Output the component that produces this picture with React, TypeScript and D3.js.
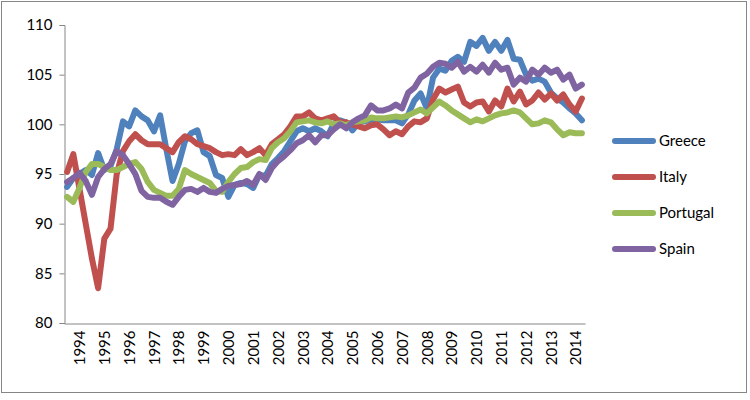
import React, { useEffect, useRef } from 'react';
import * as d3 from 'd3';

// quarterly index, 1993Q3 .. 2014Q2
const startYear = 1993;
const startQuarter = 3;
const yearLabels = ['1994', '1995', '1996', '1997', '1998', '1999', '2000', '2001', '2002', '2003', '2004',
  '2005', '2006', '2007', '2008', '2009', '2010', '2011', '2012', '2013', '2014'];
const seriesNames = ['Greece', 'Italy', 'Portugal', 'Spain'];
const seriesColors = ['#4F81BD', '#C0504D', '#9BBB59', '#8064A2'];

const greece = [93.7, 94.6, 95.0, 95.4, 94.9, 97.1, 95.4, 95.8, 97.5, 100.3, 99.8, 101.4, 100.8, 100.4, 99.3, 100.9,
  97.5, 94.3, 96.0, 98.3, 99.1, 99.4, 97.2, 96.8, 94.9, 94.6, 92.7, 93.9, 94.1, 94.0, 93.6, 94.9,
  94.8, 96.0, 96.6, 97.3, 98.3, 99.3, 99.6, 99.3, 99.6, 99.3, 98.8, 100.1, 100.4, 100.2, 99.4, 100.2,
  100.3, 100.5, 100.5, 100.4, 100.4, 100.4, 100.1, 101.0, 102.4, 103.1, 101.6, 104.7, 105.6, 105.4, 106.4, 106.8,
  106.3, 108.3, 107.9, 108.7, 107.4, 108.3, 107.4, 108.5, 106.6, 106.5, 105.0, 104.4, 104.6, 104.3, 103.2, 102.6,
  102.2, 101.6, 101.1, 100.4];
const italy = [95.2, 97.0, 93.5, 90.0, 86.5, 83.5, 88.5, 89.5, 95.0, 97.3, 98.3, 99.0, 98.4, 98.0, 98.0, 98.0,
  97.6, 97.2, 98.2, 98.8, 98.5, 98.0, 97.8, 97.6, 97.2, 96.9, 97.0, 96.9, 97.5, 96.9, 97.2, 97.6,
  96.9, 98.0, 98.5, 99.0, 99.8, 100.8, 100.8, 101.2, 100.6, 100.4, 100.6, 100.8, 100.2, 100.2, 100.0, 99.8,
  99.6, 99.9, 100.0, 99.5, 98.9, 99.3, 99.0, 99.8, 100.3, 100.2, 100.6, 102.5, 103.6, 103.2, 103.5, 103.8,
  102.2, 101.8, 102.2, 102.3, 101.3, 102.4, 101.8, 103.6, 102.3, 103.3, 102.0, 102.4, 103.2, 102.5, 103.1, 102.4,
  103.0, 102.0, 101.3, 102.6];
const portugal = [92.7, 92.2, 93.6, 95.2, 96.0, 96.0, 95.7, 95.4, 95.4, 95.7, 96.0, 96.2, 95.5, 94.2, 93.4, 93.1,
  92.8, 92.8, 93.5, 95.4, 95.0, 94.7, 94.4, 94.1, 93.3, 93.2, 94.2, 95.0, 95.6, 95.7, 96.2, 96.5,
  96.4, 97.6, 98.2, 98.6, 99.3, 100.2, 100.3, 100.4, 100.2, 100.1, 100.3, 100.0, 100.1, 99.9, 100.2, 100.3,
  100.4, 100.7, 100.6, 100.6, 100.7, 100.8, 100.7, 100.9, 101.2, 101.5, 101.1, 101.7, 102.3, 101.9, 101.4, 101.0,
  100.6, 100.2, 100.5, 100.3, 100.6, 100.9, 101.1, 101.2, 101.4, 101.2, 100.6, 100.0, 100.1, 100.4, 100.2, 99.5,
  98.9, 99.2, 99.1, 99.1];
const spain = [94.2, 94.6, 95.1, 94.3, 92.9, 94.7, 95.5, 96.0, 97.3, 96.9, 96.0, 95.0, 93.3, 92.7, 92.6, 92.6,
  92.2, 91.9, 92.7, 93.4, 93.5, 93.2, 93.6, 93.2, 93.1, 93.5, 93.8, 93.9, 94.0, 94.3, 93.9, 95.0,
  94.4, 95.6, 96.3, 96.8, 97.4, 98.1, 98.4, 98.9, 98.2, 98.9, 98.9, 99.5, 100.0, 99.6, 100.2, 100.6,
  100.9, 101.9, 101.4, 101.4, 101.6, 102.0, 101.6, 103.2, 103.7, 104.7, 105.1, 105.8, 106.2, 106.1, 105.7, 106.3,
  105.3, 105.8, 105.3, 106.0, 105.2, 106.2, 105.5, 105.7, 104.0, 104.7, 104.3, 105.5, 105.0, 105.7, 105.2, 105.5,
  104.5, 105.0, 103.6, 104.0];
const yTicks = [80, 85, 90, 95, 100, 105, 110];

const allSeries = [greece, italy, portugal, spain];
const quarters = greece.map((_, i) => {
  const q = startQuarter - 1 + i;
  return `${startYear + Math.floor(q / 4)}Q${(q % 4) + 1}`;
});

function App() {
  const ref = useRef<SVGSVGElement>(null);

  useEffect(() => {
    const svg = d3.select(ref.current);
    svg.selectAll('*').remove();

    const font = 'Lato, Carlito, "Liberation Sans", sans-serif';
    const axisColor = '#868686';

    // chart border
    svg.append('rect')
      .attr('x', 1.5).attr('y', 1.5)
      .attr('width', 745).attr('height', 391)
      .attr('fill', 'white')
      .attr('stroke', axisColor);

    const x = d3.scalePoint<string>()
      .domain(quarters)
      .range([64, 585])
      .padding(0.5);

    const y = d3.scaleLinear()
      .domain([80, 110])
      .range([323, 25]);

    // Y axis
    const yAxis = svg.append('g')
      .attr('transform', 'translate(64.5,0)')
      .call(d3.axisLeft(y).tickValues(yTicks).tickSize(5).tickPadding(7));
    yAxis.select('.domain').attr('stroke', axisColor);
    yAxis.selectAll('.tick line').attr('stroke', axisColor);
    yAxis.selectAll('.tick text')
      .attr('font-family', font)
      .attr('font-size', 15)
      .attr('fill', '#000');

    // X axis, year labels on Q1
    const xAxis = svg.append('g')
      .attr('transform', 'translate(0,323.5)')
      .call(d3.axisBottom(x)
        .tickValues(yearLabels.map(yr => yr + 'Q1'))
        .tickSize(0)
        .tickSizeOuter(0)
        .tickFormat(d => d.slice(0, 4)));
    xAxis.select('.domain').attr('stroke', axisColor);
    xAxis.selectAll('.tick text')
      .attr('font-family', font)
      .attr('font-size', 15)
      .attr('fill', '#000')
      .attr('transform', 'rotate(-90)')
      .attr('x', -7)
      .attr('y', 0)
      .attr('dy', '0.35em')
      .attr('text-anchor', 'end');

    // lines
    const line = d3.line<number>()
      .x((_, i) => x(quarters[i]) as number)
      .y(d => y(d));

    allSeries.forEach((data, k) => {
      svg.append('path')
        .datum(data)
        .attr('d', line)
        .attr('fill', 'none')
        .attr('stroke', seriesColors[k])
        .attr('stroke-width', 6)
        .attr('stroke-linejoin', 'round')
        .attr('stroke-linecap', 'round');
    });

    // legend
    const legend = svg.append('g');
    seriesNames.forEach((name, k) => {
      const ly = 141 + k * 36;
      legend.append('line')
        .attr('x1', 615).attr('x2', 653)
        .attr('y1', ly).attr('y2', ly)
        .attr('stroke', seriesColors[k])
        .attr('stroke-width', 6)
        .attr('stroke-linecap', 'round');
      legend.append('text')
        .attr('x', 659).attr('y', ly)
        .attr('dy', '0.35em')
        .attr('font-family', font)
        .attr('font-size', 15)
        .attr('fill', '#000')
        .text(name);
    });
  }, []);

  return (
    <svg ref={ref} width={750} height={400}
      style={{ position: 'absolute', left: 0, top: 0, background: 'white' }} />
  );
}

export default App;
